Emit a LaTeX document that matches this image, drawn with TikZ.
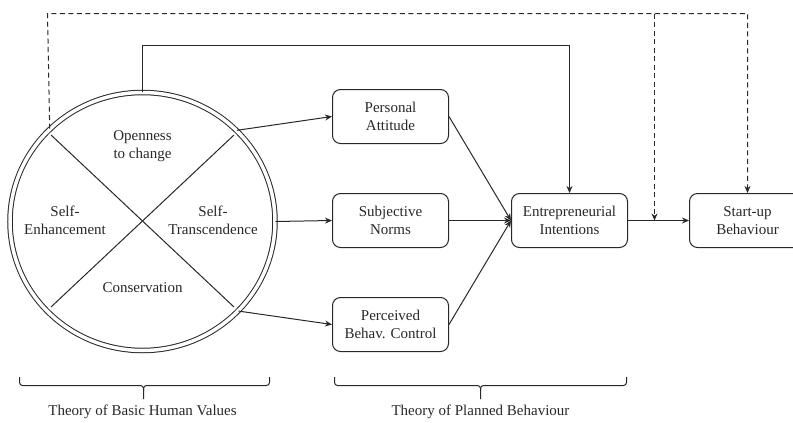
\documentclass[tikz,border=0pt]{standalone}
\usepackage{fontspec}
\setmainfont{Liberation Serif}
\usetikzlibrary{arrows.meta,shapes.geometric}

\definecolor{inkgrey}{RGB}{40,40,40}

\tikzset{
	box/.style={draw=inkgrey,rounded corners=8pt,minimum width=116pt,minimum height=54pt,align=center,line width=1pt},
	link/.style={draw=inkgrey,line width=1pt,-{Stealth[length=7pt,width=6pt]}},
	dashlink/.style={link,dash pattern=on 5pt off 3.5pt}
}

\begin{document}
\begin{tikzpicture}[x=1pt,y=-1pt,font=\fontsize{15}{18}\selectfont,color=inkgrey]
\useasboundingbox (0,0) rectangle (793,423);

% values circle
\node at (142.5,221.5) [ellipse,draw,double,double distance=3.5pt,line width=1pt,minimum width=265pt,minimum height=258pt] (values) {};
\draw[line width=1pt] (51,135) -- (234,307);
\draw[line width=1pt] (234,135) -- (51,307);
\node at (142.5,146) [align=center] (open) {Openness\\to change};
\node at (65,220) [align=center] (enh) {Self-\\Enhancement};
\node at (213,220) [align=center] (trans) {Self-\\Transcendence};
\node at (142.5,288) (cons) {Conservation};

% planned behaviour boxes
\node at (390.5,116.5) [box] (att) {Personal\\Attitude};
\node at (390.5,220.5) [box] (norms) {Subjective\\Norms};
\node at (390.5,324.5) [box] (pbc) {Perceived\\Behav. Control};
\node at (569.5,220.5) [box] (intent) {Entrepreneurial\\Intentions};
\node at (747.5,220.5) [box] (startup) {Start-up\\Behaviour};

\draw[link] (values.44) -- (att.west);
\draw[link] (values.east) -- (norms.west);
\draw[link] (values.-43) -- (pbc.west);
\draw[link] (att.east) -- (intent.west);
\draw[link] (norms.east) -- (intent.west);
\draw[link] (pbc.east) -- (intent.west);
\draw[link] (intent.east) -- (startup.west);
\draw[link] (values.north) -- (142.5,45.5) -| (intent.north);

% moderating paths
\coordinate (mod) at (654.5,220.5);
\draw[dashlink] (values.135.5) -- (47.5,13.5) -| (startup.north);
\draw[dashlink] (654.5,13.5) -- (mod);

% brackets
\draw[line width=1pt,rounded corners=3pt] (19.5,377) -- (19.5,385.5) -- (143.5,385.5) -- (143.5,399);
\draw[line width=1pt,rounded corners=3pt] (143.5,391) -- (143.5,385.5) -- (269.5,385.5) -- (269.5,377);
\draw[line width=1pt,rounded corners=3pt] (334.5,377) -- (334.5,385.5) -- (480.5,385.5) -- (480.5,399);
\draw[line width=1pt,rounded corners=3pt] (480.5,391) -- (480.5,385.5) -- (626.5,385.5) -- (626.5,377);
\node at (142.5,415) [anchor=base] (tbhv) {Theory of Basic Human Values};
\node at (480.5,415) [anchor=base] (tpb) {Theory of Planned Behaviour};
\end{tikzpicture}
\end{document}
